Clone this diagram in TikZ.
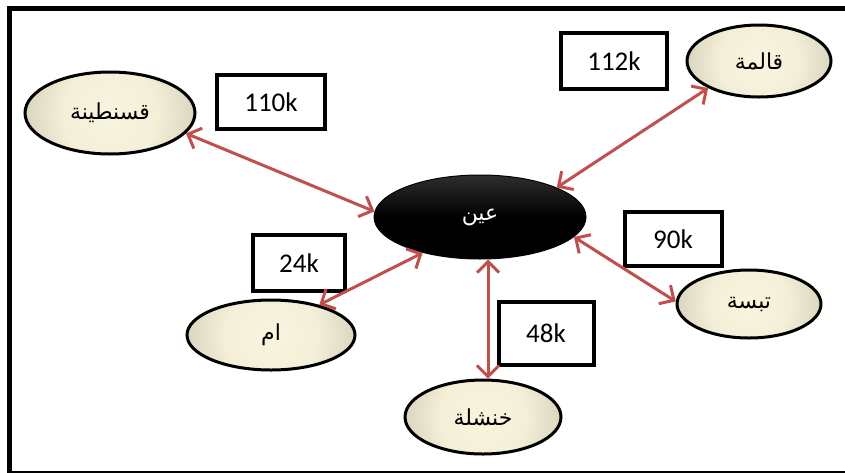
\documentclass[tikz,border=0pt]{standalone}
\usepackage{fontspec}
\setmainfont{Carlito}
\newfontfamily\arabicfont[Script=Arabic]{DejaVu Sans}
\TeXXeTstate=1
\usetikzlibrary{shapes.geometric,arrows.meta}
\definecolor{linkred}{HTML}{C0504D}
\definecolor{creamin}{HTML}{F9F4DD}
\definecolor{creamout}{HTML}{9E9C86}
\pgfdeclareradialshading{creamball}{\pgfpoint{0bp}{0bp}}{%
  color(0bp)=(creamin); color(14bp)=(creamin!94!creamout);
  color(50bp)=(creamout)}

\begin{document}
\begin{tikzpicture}[x=1pt,y=-1pt,
  city/.style={ellipse,draw=black,line width=3pt,inner sep=0pt,
    path picture={\shade[shading=creamball]
      (path picture bounding box.center) circle[radius=#1];},
    font=\arabicfont\fontsize{22}{26}\selectfont},
  hub/.style={ellipse,draw=black,line width=1pt,inner sep=0pt,
    top color=black!82,bottom color=black,middle color=black,
    text=white,font=\arabicfont\fontsize{22}{26}\selectfont},
  valbox/.style={draw=black,line width=4pt,fill=white,inner sep=0pt,
    font=\fontsize{27}{32}\selectfont},
  link/.style={draw=linkred,line width=3pt,<->,
    >={Straight Barb[length=11pt,width=22pt]}}]

\clip (0,0) rectangle (845,472);
\fill[white] (0,0) rectangle (845,472);
\draw[line width=5pt] (9.5,8.5) rectangle (860,473);

\node[hub,minimum width=212pt,minimum height=84pt] (ain) at (480,217) {\beginR عين\endR};

\node[city=85pt,minimum width=170pt,minimum height=82pt] (cons) at (110,113) {\beginR قسنطينة\endR};
\node[city=72pt,minimum width=144pt,minimum height=72pt] (guel) at (759,61) {\beginR قالمة\endR};
\node[city=84pt,minimum width=168pt,minimum height=70pt] (umm) at (271,335) {\beginR ام\endR};
\node[city=78pt,minimum width=156pt,minimum height=74pt] (khen) at (483,417) {\beginR خنشلة\endR};
\node[city=72pt,minimum width=144pt,minimum height=68pt] (teb) at (749,304) {\beginR تبسة\endR};

\node[valbox,minimum width=108pt,minimum height=54pt] (v110) at (271,102) {110k};
\node[valbox,minimum width=106pt,minimum height=56pt] (v112) at (614,61) {112k};
\node[valbox,minimum width=92pt,minimum height=56pt] (v24) at (299,263) {24k};
\node[valbox,minimum width=95pt,minimum height=63pt] (v48) at (546,333) {48k};
\node[valbox,minimum width=97pt,minimum height=54pt] (v90) at (673,239) {90k};

\draw[link] (cons.-15) -- (ain.177);
\draw[link] (guel.208) -- (ain.21);
\draw[link] (umm.32) -- (ain.212);
\draw[link] ([xshift=5pt]khen.north) -- ([xshift=8pt]ain.south);
\draw[link] (teb.178) -- (ain.-12);
\end{tikzpicture}
\end{document}
